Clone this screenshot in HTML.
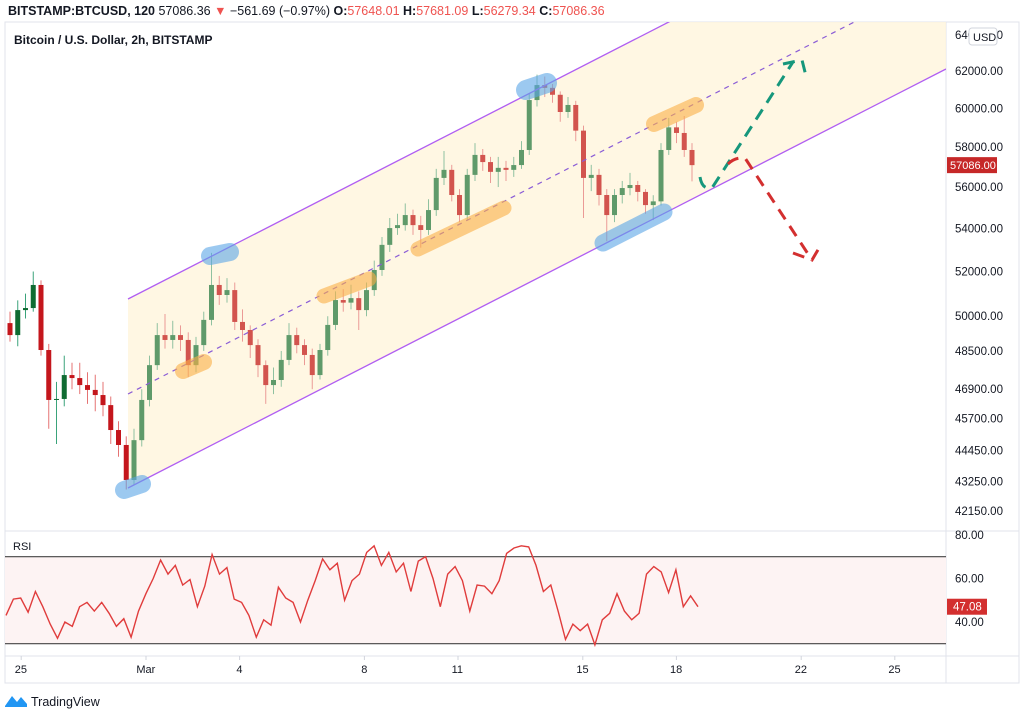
<!DOCTYPE html>
<html><head><meta charset="utf-8">
<style>
body{margin:0;background:#fff;width:1024px;height:713px;overflow:hidden;font-family:"Liberation Sans",sans-serif;}
svg{position:absolute;left:0;top:0}
</style></head>
<body>
<svg id="chart" width="1024" height="713" viewBox="0 0 1024 713" xmlns="http://www.w3.org/2000/svg">
<defs>
<clipPath id="pane"><rect x="5" y="22" width="941" height="509"/></clipPath>
</defs>
<g id="header" font-size="12.5">
<text x="8" y="15" fill="#131722" font-weight="bold">BITSTAMP:BTCUSD, 120 <tspan font-weight="normal">57086.36</tspan><tspan fill="#ef5350" font-weight="normal"> ▼ </tspan><tspan font-weight="normal">−561.69 (−0.97%)</tspan> O:<tspan fill="#ef5350" font-weight="normal">57648.01</tspan> H:<tspan fill="#ef5350" font-weight="normal">57681.09</tspan> L:<tspan fill="#ef5350" font-weight="normal">56279.34</tspan> C:<tspan fill="#ef5350" font-weight="normal">57086.36</tspan></text>
</g>
<rect x="5" y="22" width="1014" height="661" fill="none" stroke="#e0e3eb"/>
<line x1="946" y1="22" x2="946" y2="683" stroke="#e0e3eb"/>
<line x1="5" y1="531" x2="1019" y2="531" stroke="#e0e3eb"/>
<line x1="5" y1="656" x2="1019" y2="656" stroke="#e0e3eb"/>
<g id="channel-fill" clip-path="url(#pane)"></g>
<g id="candles" clip-path="url(#pane)"></g>
<g id="overlay" clip-path="url(#pane)"></g>
<text x="14" y="44" font-size="12" font-weight="bold" fill="#131722">Bitcoin / U.S. Dollar, 2h, BITSTAMP</text>
<g id="price-axis" font-size="11.5" fill="#131722"></g>
<g id="rsi" ></g>
<g id="time-axis" font-size="11" fill="#131722"></g>
<g>
<path d="M5 706 L12 696 L17 702 L21 697 L27 704 L27 707 L5 707 Z" fill="#2196f3"/>
<text x="31" y="706" font-size="12.5" fill="#131722">TradingView</text>
</g>
</svg>
<script>
const opens=[49700,49180,50270,50360,51390,48540,46460,46500,47485,47360,47070,46870,46660,46250,45250,44660,43310,44850,46460,47900,49180,48970,49180,48970,47900,48750,49840,51390,50940,51160,49750,49400,48750,47900,47070,47280,48120,49180,48750,48330,47485,48540,49620,50715,50600,50800,50270,51160,52070,53230,54020,54160,54640,54160,53930,54880,56450,56850,55610,54640,56600,57600,57240,56750,56950,56850,57090,57850,60440,61240,61090,60720,59810,60180,58840,56450,56600,55610,54640,55610,55950,56100,55760,55120,55300,57850,59010,58720,57850];
const closes=[49180,50270,50360,51390,48540,46460,46500,47485,47360,47070,46870,46660,46250,45250,44660,43310,44850,46460,47900,49180,48970,49180,48970,47900,48750,49840,51390,50940,51160,49750,49400,48750,47900,47070,47280,48120,49180,48750,48330,47485,48540,49620,50715,50600,50800,50270,51160,52070,53230,54020,54160,54640,54160,53930,54880,56450,56850,55610,54640,56600,57600,57240,56750,56950,56850,57090,57850,60440,61240,61090,60720,59810,60180,58840,56450,56600,55610,54640,55610,55950,56100,55760,55120,55300,57850,59010,58720,57850,57086];
const highs=[50200,50700,51000,52000,51600,48800,47200,48300,48000,48000,47600,47500,47200,46600,45600,45000,45300,46900,48300,49700,50100,49800,49600,49300,49100,50200,52860,51800,51700,51500,50300,49600,49000,48100,47800,48500,49700,49500,49000,48600,48800,50000,51100,51200,51400,51100,51500,52500,53600,54500,54700,55200,54900,54600,55400,56900,57800,57100,55900,56900,58200,57900,57500,57500,57300,57500,58300,60800,61800,61700,61300,60900,60600,60400,59100,57100,56900,55900,55900,56300,56700,56300,55900,55600,58200,59500,59300,59600,58200];
const lows=[48900,48700,49900,50200,48300,45300,44700,46200,46900,46700,46300,46000,45800,44700,44200,42950,43100,44600,46200,47700,48600,48600,48500,47400,47600,48500,49600,50500,50600,49400,48900,48200,47400,46300,46700,47000,47900,48400,47900,46900,47300,48300,49400,50200,50300,49400,50000,50900,51800,52900,53700,53900,53700,53100,53700,54600,56100,55300,54300,54400,56300,56800,56200,56000,56300,56500,56900,57600,60100,60600,60300,59300,59500,58300,54500,55800,55100,53400,54300,55200,55600,55300,54700,54400,55100,57600,58200,57500,56279];
const priceTicks=[62000,60000,58000,56000,54000,52000,50000,48500,46900,45700,44450,43250,42150];
const rsiValues=[43,50.5,51,44.5,54,47,39,32.5,40,38,47,49,45,49,44,38,41.5,33,45,53,60,68.5,62,66,57,59.5,47,56.5,71,62,65,50.5,49,43,33,41,38.5,56,51,49,40,50,59,69,64,67,50,59,62,72,75,66,72,63,67,54,68,70,60,47,62,65.5,59,45,57,56.5,53,59,71.5,74,75,74.5,66,54,57,45,32,39,36,39,29.5,41,44,53,45,41,44,62,65.5,63,53.5,64,47,52,47];
const rsiTicks=[80,60,40];
const timeLabels=["25","Mar","4","8","11","15","18","22","25"];
const timeDays=[-4,0,3,7,10,14,17,21,24];

const NS="http://www.w3.org/2000/svg";
function mk(tag,attrs,parent){const e=document.createElementNS(NS,tag);for(const k in attrs)e.setAttribute(k,attrs[k]);parent.appendChild(e);return e;}
const xOf=i=>10+i*7.75;
const xDay=d=>146+d*31.2;
const yOf=p=>71+Math.log(62000/p)*1140;
const yR=v=>556.7-(v-70)*2.175;

const cf=document.getElementById('channel-fill');
const fillPoly=mk('polygon',{points:"128,299 946,-120 946,69 128,488",fill:"#fff5dc","fill-opacity":"0.8"},cf);



const cg=document.getElementById('candles');
for(let i=0;i<closes.length;i++){
  const up=closes[i]>=opens[i];
  const inCh=xOf(i)>128;
  const col=up?(inCh?"#5f9a6a":"#0f6b32"):(inCh?"#d2544e":"#c4161c");
  const wcol=up?(inCh?"#8fc1a0":"#3aa37a"):(inCh?"#eb9a96":"#e57373");
  const x=xOf(i);
  const w=mk('line',{x1:x,x2:x,y1:yOf(highs[i]),y2:yOf(lows[i]),stroke:wcol,"stroke-width":1},cg);
  
  
  const y1=yOf(Math.max(opens[i],closes[i])),y2=yOf(Math.min(opens[i],closes[i]));
  const b=mk('rect',{x:x-2.5,y:y1,width:5,height:Math.max(1,y2-y1),fill:col},cg);
  
  
}

const ov=document.getElementById('overlay');
function cap(x1,y1,x2,y2,w,c,name){const l=mk('line',{x1,y1,x2,y2,stroke:c,"stroke-width":w,"stroke-linecap":"round"},ov);

}
const lu=mk('line',{x1:128,y1:299,x2:946,y2:-120,stroke:"#b05ef2","stroke-width":1.3},ov);


const ll=mk('line',{x1:128,y1:488,x2:946,y2:69,stroke:"#b05ef2","stroke-width":1.3},ov);


const lm=mk('line',{x1:128,y1:394,x2:946,y2:-25,stroke:"#8a5cd6","stroke-width":1.2,"stroke-dasharray":"5 5"},ov);


const blue="rgba(90,165,230,0.6)",orange="rgba(250,175,70,0.6)";
cap(124,490,142,484,18,blue,'highlight-low');
cap(210,256,230,252,18,blue,'highlight-high-1');
cap(526,90,547,83,20,blue,'highlight-high-2');
cap(603,243,664,212,17,blue,'highlight-support');
cap(183,371,204,362,16,orange,'highlight-mid-1');
cap(324,296,369,279,15,orange,'highlight-mid-2');
cap(418,249,504,208,15,orange,'highlight-mid-3');
cap(654,124,696,105,16,orange,'highlight-mid-4');
const ga=mk('path',{d:"M700 177 Q702 190 712 188 L793 62 M783 64 L802 60 L807 80",fill:"none",stroke:"#16977c","stroke-width":3,"stroke-dasharray":"12 8"},ov);


const ra=mk('path',{d:"M728 164 Q735 157 745 158 L812 260 M793 253 L812 260 L822 243",fill:"none",stroke:"#d32f2f","stroke-width":3,"stroke-dasharray":"12 8"},ov);



const pa=document.getElementById('price-axis');
const t64=mk('text',{x:955,y:39},pa);t64.textContent="64000.00";
for(const p of priceTicks){const t=mk('text',{x:955,y:yOf(p)+4},pa);t.textContent=p.toFixed(2);

}
const ub=mk('rect',{x:969,y:28,width:28,height:17,rx:3,fill:"#fff",stroke:"#d1d4dc"},pa);


const ut=mk('text',{x:973,y:41,"font-size":11},pa);ut.textContent="USD";
const last=closes[closes.length-1];
const lb=mk('rect',{x:947,y:yOf(last)-8,width:50,height:16,fill:"#c62828"},pa);


const lt=mk('text',{x:950,y:yOf(last)+4,fill:"#fff","font-size":11},pa);lt.textContent=last.toFixed(2);

const rg=document.getElementById('rsi');
const rb=mk('rect',{x:5,y:yR(70),width:941,height:yR(30)-yR(70),fill:"#fdf3f3"},rg);


for(const v of [70,30]){const l=mk('line',{x1:5,x2:946,y1:yR(v),y2:yR(v),stroke:"#444","stroke-width":1.2},rg);

}
const rt=mk('text',{x:13,y:550,"font-size":11,fill:"#131722"},rg);rt.textContent="RSI";
let d="";const n=rsiValues.length;
rsiValues.forEach((v,i)=>{const x=6+i*(692/(n-1));d+=(i?"L":"M")+x.toFixed(1)+" "+yR(v).toFixed(1);});
const rl=mk('path',{d,fill:"none",stroke:"#e03c3c","stroke-width":1.4},rg);


for(const v of rsiTicks){const t=mk('text',{x:955,y:yR(v)+4,"font-size":11.5,fill:"#131722"},rg);t.textContent=v.toFixed(2);

}
const rv=rsiValues[n-1];
const rvb=mk('rect',{x:947,y:yR(rv)-8,width:40,height:16,fill:"#d32f2f"},rg);


const rvt=mk('text',{x:953,y:yR(rv)+4,"font-size":11.5,fill:"#fff"},rg);rvt.textContent="47.08";

const ta=document.getElementById('time-axis');
timeLabels.forEach((s,i)=>{const x=xDay(timeDays[i]);
const tk=mk('line',{x1:x,x2:x,y1:656,y2:660,stroke:"#d1d4dc"},ta);
const t=mk('text',{x:x-(s.length*3.2),y:673},ta);t.textContent=s;

});
</script>
</body></html>
